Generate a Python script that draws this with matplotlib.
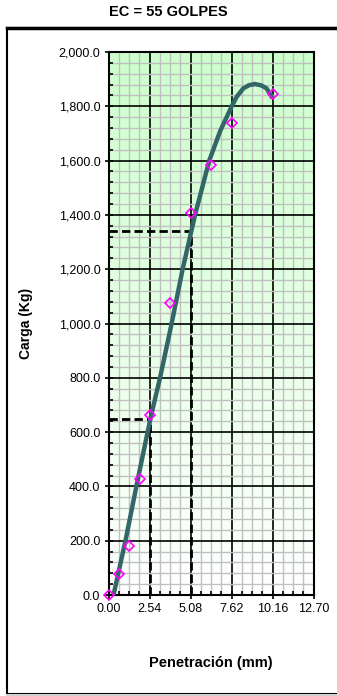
import numpy as np
import matplotlib.pyplot as plt
from matplotlib.patches import Rectangle
from matplotlib.ticker import MultipleLocator, FuncFormatter

# ensayo CBR - 55 golpes
penetracion = [0.00, 0.64, 1.27, 1.91, 2.54, 3.81, 5.08, 6.35, 7.62, 10.16]
carga = [0, 78, 179, 427, 663, 1074, 1407, 1583, 1740, 1845]

# curva corregida
curva_x = [0.30, 1.05, 1.73, 2.41, 2.66, 3.18, 3.90, 4.58, 5.35, 6.23,
           6.90, 7.62, 7.93, 8.34, 8.70, 9.06, 9.45, 9.78, 10.16]
curva_y = [0, 203, 405, 600, 669, 800, 1000, 1200, 1400, 1600,
           1708, 1800, 1835, 1866, 1878, 1882, 1877, 1866, 1829]

# lecturas a 2.54 y 5.08 mm
pen_ref = [2.54, 5.08]
carga_ref = [650, 1341]

xticks = [0.00, 2.54, 5.08, 7.62, 10.16, 12.70]

plt.rcParams['font.family'] = ['Liberation Sans', 'DejaVu Sans']

fig = plt.figure(figsize=(3.37, 6.96), dpi=100)

# marco exterior
fig.patches.append(Rectangle((7 / 337, 2 / 696), 340 / 337, (694 - 28) / 696,
                             transform=fig.transFigure, fill=False,
                             edgecolor='black', linewidth=1.5))
fig.add_artist(plt.Line2D([7 / 337, 1], [1 - 28 / 696] * 2,
                          transform=fig.transFigure, color='black', linewidth=2.5))
fig.add_artist(plt.Line2D([7 / 337, 1], [1 / 696] * 2,
                          transform=fig.transFigure, color='#d0d0d0', linewidth=1.5))

fig.text(0.5, 1 - 12 / 696, "EC = 55 GOLPES", ha='center', va='center',
         fontsize=10.5, fontweight='bold')

ax = fig.add_axes([108.7 / 337, 101 / 696, 205 / 337, 543 / 696])

# fondo degradado verde -> blanco
grad = np.linspace(0, 1, 256).reshape(-1, 1)
top = np.array([204, 255, 204]) / 255
bot = np.array([255, 255, 255]) / 255
img = bot + (top - bot) * grad[:, :, None]
ax.imshow(img, extent=[0, 12.7, 0, 2000], origin='lower', aspect='auto', zorder=0)

ax.set_xlim(0, 12.7)
ax.set_ylim(0, 2000)
ax.set_xticks(xticks)
ax.xaxis.set_minor_locator(MultipleLocator(0.635))
ax.yaxis.set_major_locator(MultipleLocator(200))
ax.yaxis.set_minor_locator(MultipleLocator(40))
ax.xaxis.set_major_formatter(FuncFormatter(lambda v, p: f"{v:.2f}"))
ax.yaxis.set_major_formatter(FuncFormatter(lambda v, p: f"{v:,.1f}"))

ax.grid(which='minor', color='#c0c0c0', linewidth=1.0, zorder=1)
ax.grid(which='major', color='black', linewidth=1.2, zorder=1)
ax.set_axisbelow(True)

ax.tick_params(which='major', direction='inout', length=6, width=1.2,
               labelsize=9, pad=3)
ax.tick_params(which='minor', direction='in', length=3, width=1.2)
for s in ax.spines.values():
    s.set_linewidth(1.5)

# lineas de lectura
for px, cy in zip(pen_ref, carga_ref):
    ax.plot([0, px], [cy, cy], color='black', linestyle=(0, (3, 1.5)),
            linewidth=2, zorder=3)
    ax.plot([px, px], [0, cy], color='black', linestyle=(0, (3, 1.5)),
            linewidth=2, zorder=3)

ax.plot(curva_x, curva_y, color='#336666', linewidth=3.2, zorder=4,
        solid_capstyle='butt', solid_joinstyle='round')
ax.plot(penetracion, carga, linestyle='none', marker='D', markersize=5,
        markerfacecolor='none', markeredgecolor='#ff00ff', markeredgewidth=1.2,
        zorder=5, clip_on=False)

ax.set_xlabel("Penetración (mm)", fontsize=10.5, fontweight='bold')
ax.xaxis.set_label_coords(0.5, -61 / 543)
ax.set_ylabel("Carga (Kg)", fontsize=10, fontweight='bold')
ax.yaxis.set_label_coords(-76 / 205, 0.5)

fig.savefig("out.png", dpi=100)
